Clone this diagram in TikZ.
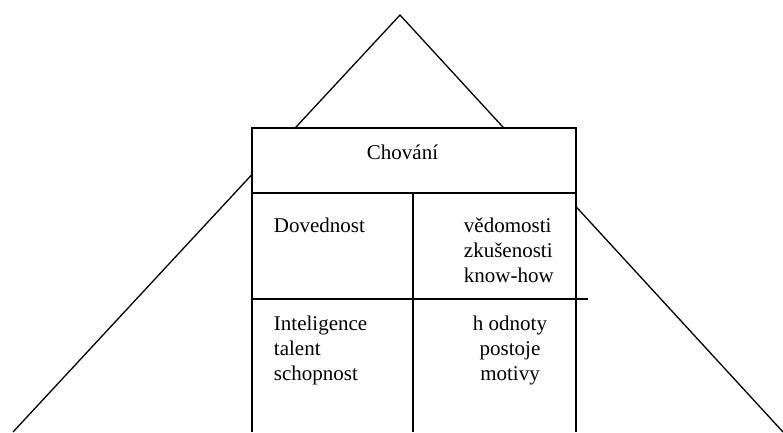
\documentclass[tikz,border=0pt]{standalone}
\usepackage{fontspec}
\setmainfont{Liberation Serif}
\begin{document}
\begin{tikzpicture}[x=1pt,y=-1pt,line width=1.3pt,
  label text/.style={font=\fontsize{21}{25}\selectfont,inner sep=0pt,align=left},
  rule/.style={draw=black,line width=1.3pt}]
\useasboundingbox (0,0) rectangle (783,432);
% pyramid outline
\coordinate (apex) at (400,15);
\coordinate (baseL) at (13,432);
\coordinate (baseR) at (783,432);
\draw[rule] (baseL) -- (apex) -- (baseR);
% house-shaped table covering the pyramid
\coordinate (tl) at (252,128);
\coordinate (tr) at (576,128);
\coordinate (bl) at (252,432);
\coordinate (br) at (576,432);
\fill[white] (tl) rectangle (br);
\draw[rule] (bl) -- (tl) -- (tr) -- (br);
\coordinate (r1l) at (252,193);
\coordinate (r1r) at (576,193);
\coordinate (r2l) at (252,299);
\coordinate (r2r) at (588,299);
\coordinate (mt) at (413,193);
\coordinate (mb) at (413,432);
\draw[rule] (r1l) -- (r1r);
\draw[rule] (r2l) -- (r2r);
\draw[rule] (mt) -- (mb);
% cell texts (base anchors sit on the last line of each block)
\node[label text,anchor=base] (chovani) at (402.5,159.5) {Chování};
\node[label text,anchor=base west] (dovednost) at (273.3,232) {Dovednost};
\node[label text,anchor=base west] (vedomosti) at (463.3,282) {vědomosti\\zkušenosti\\know-how};
\node[label text,anchor=base west] (inteligence) at (273.3,380) {Inteligence\\talent\\schopnost};
\node[label text,anchor=base,align=center] (hodnoty) at (510,380) {h odnoty\\postoje\\motivy};
\end{tikzpicture}
\end{document}
